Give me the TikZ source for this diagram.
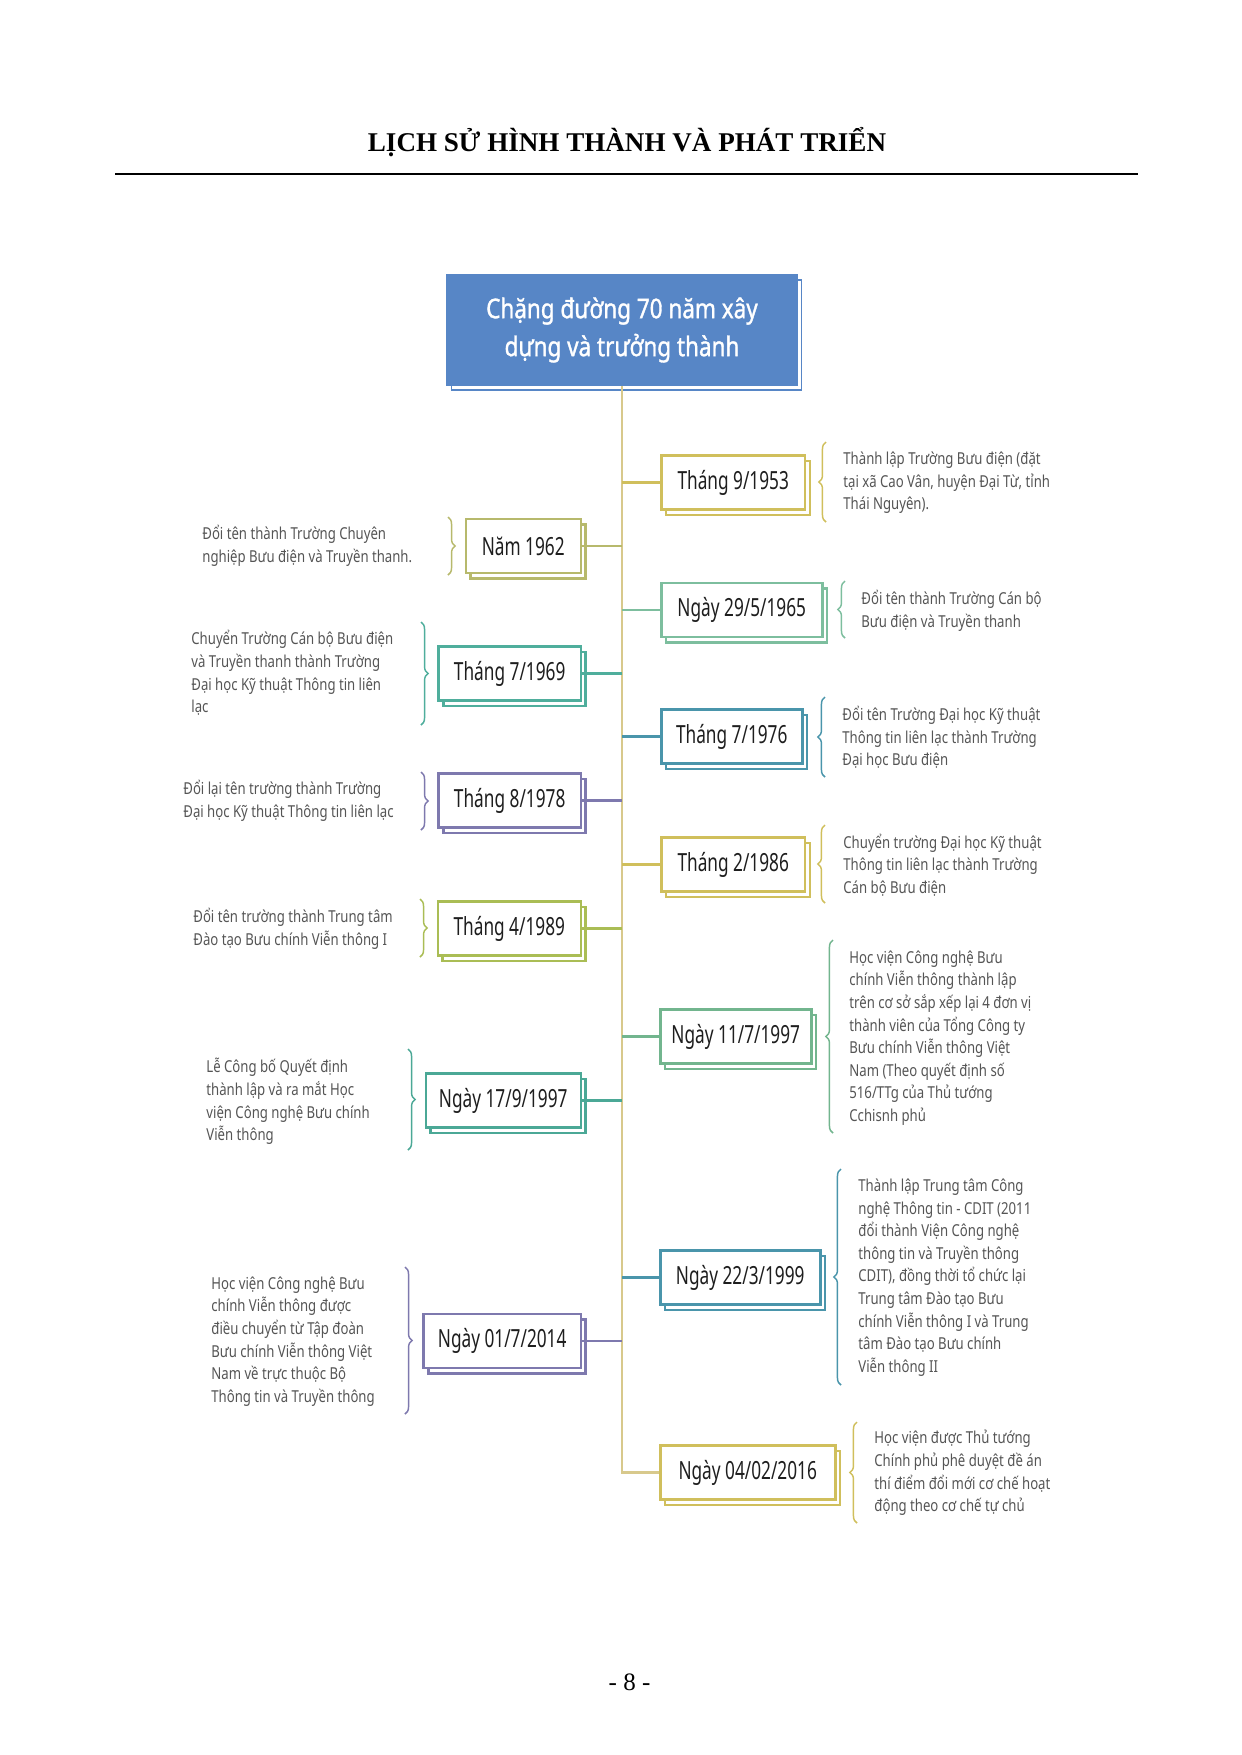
\documentclass[tikz,border=0pt]{standalone}
\usepackage{fontspec}
\setmainfont{Liberation Serif}
\newfontfamily\boxfont[FakeStretch=0.69]{Noto Sans}
\newfontfamily\descfont[FakeStretch=0.8]{Noto Sans}
\newfontfamily\headfont[FakeStretch=0.83,FakeBold=1.2]{Noto Sans}
\usetikzlibrary{shadows,decorations.pathreplacing}
\definecolor{cGold}{HTML}{D0BF5C}
\definecolor{cSpine}{HTML}{D8C98C}
\definecolor{cOlive}{HTML}{B7B96C}
\definecolor{cTealG}{HTML}{4FAE9C}
\definecolor{cSea}{HTML}{7DBE9E}
\definecolor{cBlueT}{HTML}{4A95AB}
\definecolor{cPurple}{HTML}{7E79AE}
\definecolor{cYG}{HTML}{AABD55}
\definecolor{cGreen}{HTML}{72B58E}
\definecolor{cTeal}{HTML}{4BA896}
\definecolor{cBlue}{HTML}{5786C6}
\definecolor{descgray}{HTML}{555555}
\definecolor{boxtext}{HTML}{1E1E1E}
\tikzset{
  datebox/.style={draw=#1, line width=1.2pt, fill=white, minimum height=25.9pt,
    inner sep=0pt, font=\boxfont\fontsize{12}{14}\selectfont, text=boxtext,
    copy shadow={draw=#1, fill=white, line width=1.2pt, shadow xshift=2.2pt, shadow yshift=-2.6pt}},
  desc/.style={font=\descfont\fontsize{7.9}{10.85}\selectfont, text=descgray, align=left, inner sep=0pt, anchor=west},
  conn/.style={draw=#1, line width=1pt},
  bracel/.style={draw=#1, line width=0.7pt, decorate, decoration={brace, amplitude=3.4pt}},
  headbox/.style={fill=cBlue, draw=cBlue, line width=0.6pt, minimum width=168pt, minimum height=52.8pt,
    text=white, align=center, font=\headfont\fontsize{13}{18.2}\selectfont,
    copy shadow={fill=white, draw=cBlue, line width=0.7pt, shadow xshift=2.2pt, shadow yshift=-2.4pt}},
  spine/.style={draw=cSpine, line width=1pt}
}
\begin{document}
\begin{tikzpicture}[x=0.48pt, y=-0.48pt]
\useasboundingbox (0,0) rectangle (1242,1755);
\fill[white] (0,0) rectangle (1242,1755);

% header
\node[font=\bfseries\fontsize{13}{15}\selectfont] (title) at (627,142) {LỊCH SỬ HÌNH THÀNH VÀ PHÁT TRIỂN};
\coordinate (ruleL) at (115,174);
\coordinate (ruleR) at (1138,174);
\draw[line width=1.4pt] (ruleL) -- (ruleR);

% central box
\node[headbox] (top) at (622,330) {Chặng đường 70 năm xây\\dựng và trưởng thành};

% right date boxes
\node[datebox=cGold, minimum width=69.1pt, anchor=west] (r1) at (660,482.5) {Tháng 9/1953};
\node[datebox=cSea, minimum width=77.3pt, anchor=west] (r2) at (660,610) {Ngày 29/5/1965};
\node[datebox=cBlueT, minimum width=67.7pt, anchor=west] (r3) at (660,736.5) {Tháng 7/1976};
\node[datebox=cGold, minimum width=69.1pt, anchor=west] (r4) at (660,864.5) {Tháng 2/1986};
\node[datebox=cGreen, minimum width=72.5pt, anchor=west] (r5) at (659,1036.5) {Ngày 11/7/1997};
\node[datebox=cBlueT, minimum width=76.8pt, anchor=west] (r6) at (659,1277.5) {Ngày 22/3/1999};
\node[datebox=cGold, minimum width=84pt, anchor=west] (r7) at (659,1472.5) {Ngày 04/02/2016};

% left date boxes
\node[datebox=cOlive, minimum width=55.2pt, anchor=east] (lA) at (582,546) {Năm 1962};
\node[datebox=cTealG, minimum width=68.2pt, anchor=east] (lB) at (582,673.5) {Tháng 7/1969};
\node[datebox=cPurple, minimum width=68.2pt, anchor=east] (lC) at (582,800.5) {Tháng 8/1978};
\node[datebox=cYG, minimum width=68.6pt, anchor=east] (lD) at (582,928.5) {Tháng 4/1989};
\node[datebox=cTeal, minimum width=74.4pt, anchor=east] (lE) at (582,1100.5) {Ngày 17/9/1997};
\node[datebox=cPurple, minimum width=75.4pt, anchor=east] (lF) at (582,1341) {Ngày 01/7/2014};

% spine
\draw[spine] (top.south) |- (r7.west);

% spine coordinates
\coordinate (s1) at (622,482.5);
\coordinate (s2) at (622,610);
\coordinate (s3) at (622,736.5);
\coordinate (s4) at (622,864.5);
\coordinate (s5) at (622,1036.5);
\coordinate (s6) at (622,1277.5);
\coordinate (sA) at (622,546);
\coordinate (sB) at (622,673.5);
\coordinate (sC) at (622,800.5);
\coordinate (sD) at (622,928.5);
\coordinate (sE) at (622,1100.5);
\coordinate (sF) at (622,1341);

\draw[conn=cGold] (s1) -- (r1.west);
\draw[conn=cSea] (s2) -- (r2.west);
\draw[conn=cBlueT] (s3) -- (r3.west);
\draw[conn=cGold] (s4) -- (r4.west);
\draw[conn=cGreen] (s5) -- (r5.west);
\draw[conn=cBlueT] (s6) -- (r6.west);
\draw[conn=cOlive] (sA) -- (lA.east);
\draw[conn=cTealG] (sB) -- (lB.east);
\draw[conn=cPurple] (sC) -- (lC.east);
\draw[conn=cYG] (sD) -- (lD.east);
\draw[conn=cTeal] (sE) -- (lE.east);
\draw[conn=cPurple] (sF) -- (lF.east);

% right braces (tip pointing left)
\draw[bracel=cGold] (826,522) -- (826,442);
\draw[bracel=cSea] (845,638) -- (845,581);
\draw[bracel=cBlueT] (825,777) -- (825,697);
\draw[bracel=cGold] (825,903) -- (825,825);
\draw[bracel=cGreen] (833,1133) -- (833,940);
\draw[bracel=cBlueT] (841,1385) -- (841,1169);
\draw[bracel=cGold] (857,1523) -- (857,1422);

% left braces (tip pointing right)
\draw[bracel=cOlive] (448,517) -- (448,575);
\draw[bracel=cTealG] (421,622) -- (421,725);
\draw[bracel=cPurple] (421,772) -- (421,830);
\draw[bracel=cYG] (420,899) -- (420,957);
\draw[bracel=cTeal] (408,1049) -- (408,1150);
\draw[bracel=cPurple] (405,1267) -- (405,1414);

% right descriptions
\node[desc] (d1) at (843,483) {Thành lập Trường Bưu điện (đặt\\tại xã Cao Vân, huyện Đại Từ, tỉnh\\Thái Nguyên).};
\node[desc] (d2) at (861,610.5) {Đổi tên thành Trường Cán bộ\\Bưu điện và Truyền thanh};
\node[desc] (d3) at (842,737.5) {Đổi tên Trường Đại học Kỹ thuật\\Thông tin liên lạc thành Trường\\Đại học Bưu điện};
\node[desc] (d4) at (843,865) {Chuyển trường Đại học Kỹ thuật\\Thông tin liên lạc thành Trường\\Cán bộ Bưu điện};
\node[desc] (d5) at (849,1038) {Học viện Công nghệ Bưu\\chính Viễn thông thành lập\\trên cơ sở sắp xếp lại 4 đơn vị\\thành viên của Tổng Công ty\\Bưu chính Viễn thông Việt\\Nam (Theo quyết định số\\516/TTg của Thủ tướng\\Cchisnh phủ};
\node[desc] (d6) at (858,1277.5) {Thành lập Trung tâm Công\\nghệ Thông tin - CDIT (2011\\đổi thành Viện Công nghệ\\thông tin và Truyền thông\\CDIT), đồng thời tổ chức lại\\Trung tâm Đào tạo Bưu\\chính Viễn thông I và Trung\\tâm Đào tạo Bưu chính\\Viễn thông II};
\node[desc] (d7) at (874,1473) {Học viện được Thủ tướng\\Chính phủ phê duyệt đề án\\thí điểm đổi mới cơ chế hoạt\\động theo cơ chế tự chủ};

% left descriptions
\node[desc] (dA) at (202,546) {Đổi tên thành Trường Chuyên\\nghiệp Bưu điện và Truyền thanh.};
\node[desc] (dB) at (191,673) {Chuyển Trường Cán bộ Bưu điện\\và Truyền thanh thành Trường\\Đại học Kỹ thuật Thông tin liên\\lạc};
\node[desc] (dC) at (183,801) {Đổi lại tên trường thành Trường\\Đại học Kỹ thuật Thông tin liên lạc};
\node[desc] (dD) at (193,928.5) {Đổi tên trường thành Trung tâm\\Đào tạo Bưu chính Viễn thông I};
\node[desc] (dE) at (206,1101.5) {Lễ Công bố Quyết định\\thành lập và ra mắt Học\\viện Công nghệ Bưu chính\\Viễn thông};
\node[desc] (dF) at (211,1341.5) {Học viện Công nghệ Bưu\\chính Viễn thông được\\điều chuyển từ Tập đoàn\\Bưu chính  Viễn thông Việt\\Nam về trực thuộc Bộ\\Thông tin và Truyền thông};

% page number
\node[font=\fontsize{12}{14}\selectfont] (pg) at (629.5,1682) {- 8 -};
\end{tikzpicture}
\end{document}
